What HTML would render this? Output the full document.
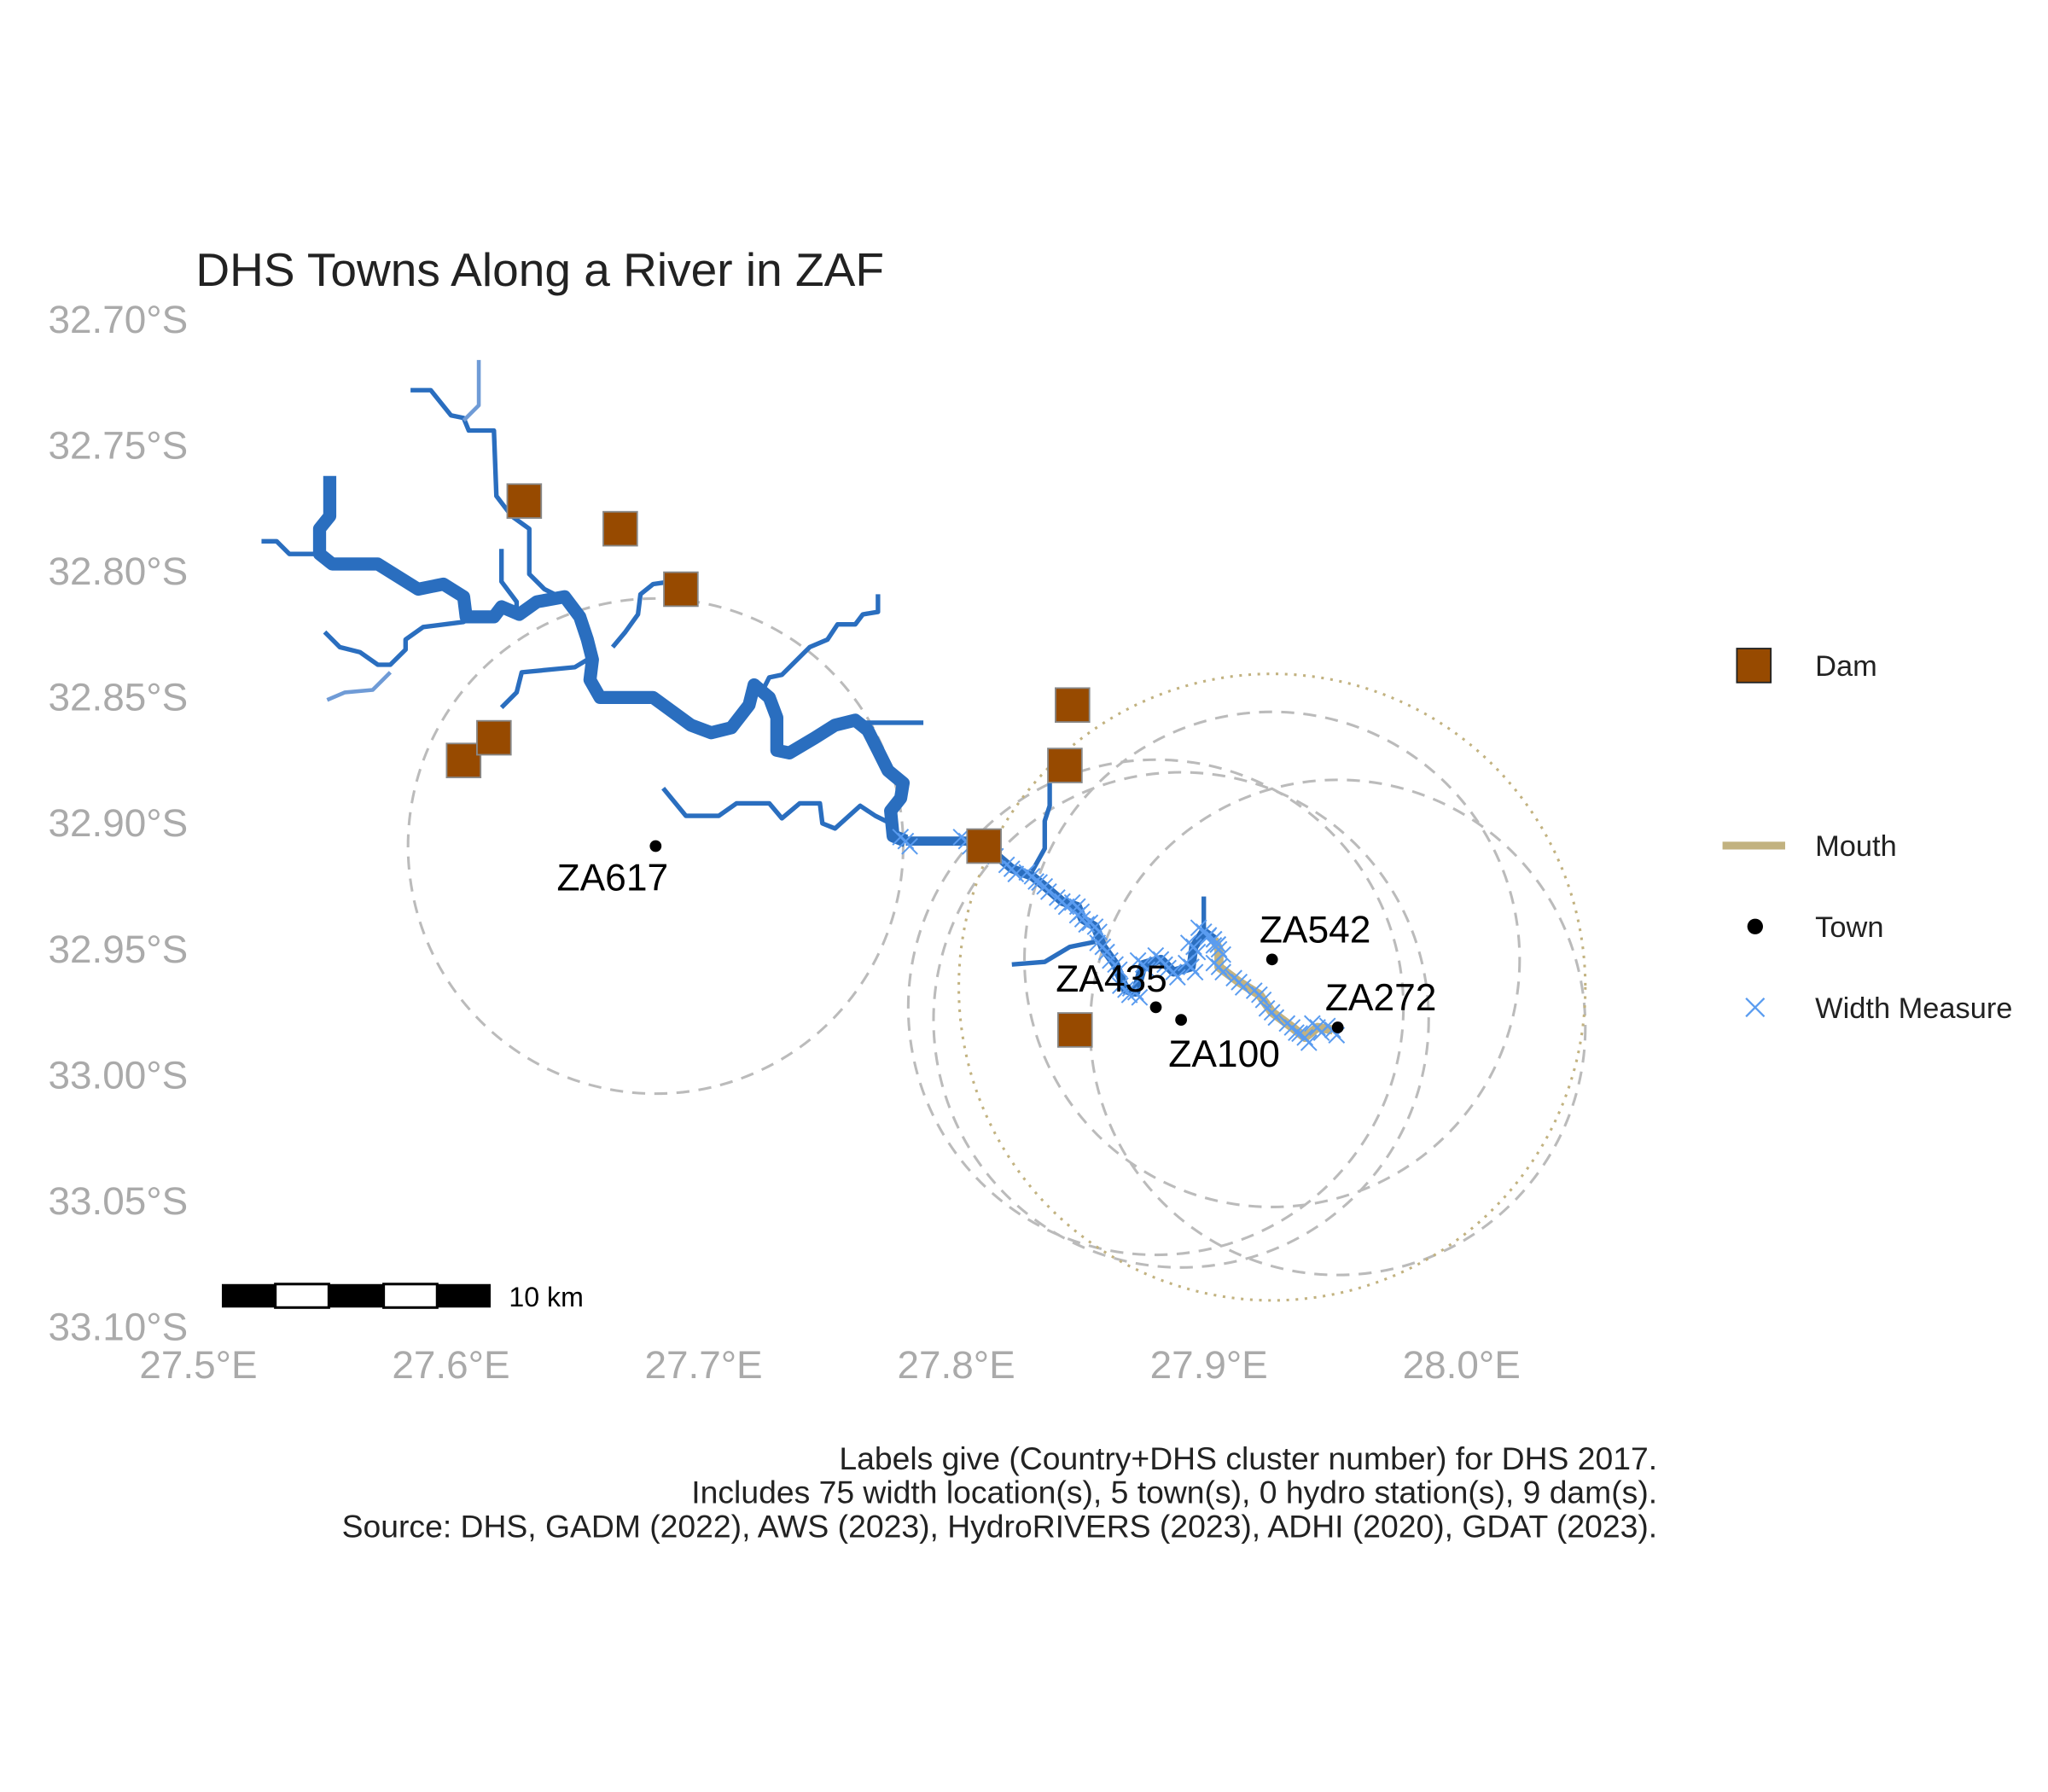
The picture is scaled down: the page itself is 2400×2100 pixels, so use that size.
<!DOCTYPE html>
<html><head><meta charset="utf-8"><style>
html,body{margin:0;padding:0;background:#fff;}
svg{display:block;font-family:"Liberation Sans",Arial,sans-serif;}
</style></head><body>
<svg id="map" width="2400" height="2100" viewBox="0 0 1560 1365" xmlns="http://www.w3.org/2000/svg">
<rect width="1560" height="1365" fill="#fff"/>
<g transform="scale(0.994)">
<text x="150" y="219" font-size="36" fill="#222">DHS Towns Along a River in ZAF</text>
<g id="yaxis"></g>
<g id="xaxis"></g>
<g id="buffers"></g>
<g id="rivers"></g>
<g id="measures"></g>
<g id="dams"></g>
<g id="towns"></g>
<g>
<rect x="170" y="984" width="41" height="18" fill="#000"/>
<rect x="211" y="984" width="41" height="18" fill="#fff" stroke="#000" stroke-width="2"/>
<rect x="252" y="984" width="42" height="18" fill="#000"/>
<rect x="294" y="984" width="41" height="18" fill="#fff" stroke="#000" stroke-width="2"/>
<rect x="335" y="984" width="41" height="18" fill="#000"/>
<text x="390" y="1001" font-size="21" fill="#000">10 km</text>
</g>
<g>
<rect x="1331" y="497" width="26" height="26" fill="#974a00" stroke="#222" stroke-width="1.2"/>
<text x="1391" y="518" font-size="22.5" fill="#222">Dam</text>
<line x1="1320" y1="648" x2="1368" y2="648" stroke="#c2b280" stroke-width="6"/>
<text x="1391" y="656" font-size="22.5" fill="#222">Mouth</text>
<circle cx="1345" cy="710" r="6" fill="#000"/>
<text x="1391" y="718" font-size="22.5" fill="#222">Town</text>
<path d="M1338 765 L1352 779 M1352 765 L1338 779" stroke="#5a9cf0" stroke-width="1.5"/>
<text x="1391" y="780" font-size="22.5" fill="#222">Width Measure</text>
</g>
<g font-size="24.4" fill="#222" text-anchor="end">
<text x="1270" y="1126">Labels give (Country+DHS cluster number) for DHS 2017.</text>
<text x="1270" y="1152">Includes 75 width location(s), 5 town(s), 0 hydro station(s), 9 dam(s).</text>
<text x="1270" y="1178">Source: DHS, GADM (2022), AWS (2023), HydroRIVERS (2023), ADHI (2020), GDAT (2023).</text>
</g>
</g>
</svg>
<script>
const xTicks=[27.5,27.6,27.7,27.8,27.9,28.0];
const xTickLabels=["27.5°E","27.6°E","27.7°E","27.8°E","27.9°E","28.0°E"];
const yTicks=[32.70,32.75,32.80,32.85,32.90,32.95,33.00,33.05,33.10];
const yTickLabels=["32.70°S","32.75°S","32.80°S","32.85°S","32.90°S","32.95°S","33.00°S","33.05°S","33.10°S"];
const mainUpper=[[27.552,32.762],[27.552,32.778],[27.548,32.783],[27.548,32.793],[27.553,32.797],[27.571,32.797],[27.587,32.807],[27.597,32.805],[27.605,32.810],[27.606,32.818],[27.617,32.818],[27.620,32.814],[27.627,32.817],[27.634,32.812],[27.645,32.810],[27.651,32.818],[27.654,32.827],[27.656,32.835],[27.655,32.843],[27.659,32.850],[27.680,32.850],[27.695,32.861],[27.703,32.864],[27.711,32.862],[27.718,32.853],[27.720,32.845],[27.726,32.850],[27.729,32.858],[27.729,32.871],[27.734,32.872],[27.744,32.866],[27.752,32.861],[27.760,32.859],[27.765,32.863],[27.769,32.871],[27.773,32.879],[27.779,32.884],[27.778,32.890],[27.774,32.895],[27.775,32.905],[27.780,32.907]];
const mainLower=[[27.780,32.907],[27.804,32.907],[27.814,32.911],[27.822,32.918],[27.830,32.921],[27.835,32.925],[27.842,32.931],[27.848,32.933],[27.850,32.938],[27.855,32.941],[27.858,32.949],[27.863,32.956],[27.867,32.966],[27.871,32.967],[27.874,32.956],[27.881,32.954],[27.886,32.959],[27.893,32.957],[27.894,32.949],[27.898,32.943],[27.902,32.946]];
const mouth=[[27.902,32.946],[27.904,32.950],[27.904,32.957],[27.912,32.963],[27.920,32.968],[27.925,32.975],[27.933,32.981],[27.938,32.985],[27.943,32.981],[27.949,32.982]];
const tribs=[
[[27.525,32.788],[27.531,32.788],[27.536,32.793],[27.546,32.793]],
[[27.584,32.728],[27.592,32.728],[27.600,32.738],[27.605,32.739],[27.607,32.744],[27.617,32.744],[27.618,32.770],[27.624,32.778],[27.631,32.783],[27.631,32.801],[27.637,32.807],[27.645,32.811]],
[[27.620,32.791],[27.620,32.796],[27.620,32.804],[27.626,32.812],[27.626,32.817]],
[[27.550,32.824],[27.556,32.830],[27.564,32.832],[27.571,32.837],[27.576,32.837],[27.582,32.831],[27.582,32.827],[27.589,32.822],[27.605,32.820],[27.608,32.818]],
[[27.620,32.854],[27.626,32.848],[27.628,32.840],[27.649,32.838],[27.654,32.835]],
[[27.664,32.830],[27.669,32.824],[27.674,32.817],[27.675,32.809],[27.680,32.805],[27.687,32.804]],
[[27.769,32.809],[27.769,32.816],[27.763,32.817],[27.760,32.821],[27.753,32.821],[27.749,32.827],[27.742,32.830],[27.731,32.841],[27.726,32.842],[27.723,32.848]],
[[27.757,32.860],[27.787,32.860]],
[[27.684,32.886],[27.693,32.897],[27.706,32.897],[27.713,32.892],[27.726,32.892],[27.731,32.898],[27.738,32.892],[27.746,32.892],[27.747,32.900],[27.752,32.902],[27.762,32.893],[27.768,32.897],[27.774,32.900]],
[[27.837,32.884],[27.837,32.893],[27.835,32.899],[27.835,32.910],[27.830,32.919]],
[[27.822,32.956],[27.835,32.955],[27.845,32.949],[27.855,32.947]],
[[27.898,32.929],[27.898,32.942]]];
const lightTribs=[
[[27.611,32.716],[27.611,32.734],[27.605,32.740]],
[[27.551,32.851],[27.558,32.848],[27.569,32.847],[27.576,32.840]]];
const damLon=[27.629,27.667,27.691,27.605,27.617,27.846,27.843,27.811,27.847];
const damLat=[32.772,32.783,32.807,32.875,32.866,32.853,32.877,32.909,32.982];
const townNames=["ZA617","ZA542","ZA435","ZA100","ZA272"];
const townLon=[27.681,27.925,27.879,27.889,27.951];
const townLat=[32.909,32.954,32.973,32.978,32.981];
const labelDx=[-33,33,-34,33,33];
const labelDy=[34,-13,-12,36,-13];
const bufferRadiusDeg=0.098;
const dottedLon=[27.925];
const dottedLat=[32.965];
const dottedRadiusDeg=0.124;

const NS="http://www.w3.org/2000/svg";
function X(lon){return 152+(lon-27.5)*1936;}
function Y(lat){return 245+(lat-32.70)*1930;}
function mk(tag,attrs,parent){const e=document.createElementNS(NS,tag);for(const k in attrs)e.setAttribute(k,attrs[k]);parent.appendChild(e);return e;}
function pts(a){return a.map(p=>X(p[0]).toFixed(1)+","+Y(p[1]).toFixed(1)).join(" ");}

const ya=document.getElementById('yaxis');
yTicks.forEach((t,i)=>{const e=mk('text',{x:144,y:Y(t)+10,'font-size':30,fill:'#aaa','text-anchor':'end'},ya);e.textContent=yTickLabels[i];

});
const xa=document.getElementById('xaxis');
xTicks.forEach((t,i)=>{const e=mk('text',{x:X(t),y:1056,'font-size':30,fill:'#aaa','text-anchor':'middle'},xa);e.textContent=xTickLabels[i];

});

const bf=document.getElementById('buffers');
const rPx=bufferRadiusDeg*1936;
townLon.forEach((lon,i)=>{const c=mk('circle',{cx:X(lon),cy:Y(townLat[i]),r:rPx,fill:'none',stroke:'#bbb','stroke-width':2,'stroke-dasharray':'10 7'},bf);

});
dottedLon.forEach((lon,i)=>{const c=mk('circle',{cx:X(lon),cy:Y(dottedLat[i]),r:dottedRadiusDeg*1936,fill:'none',stroke:'#c2b280','stroke-width':2,'stroke-dasharray':'2 5'},bf);

});

const rv=document.getElementById('rivers');
tribs.forEach(t=>{const l=mk('polyline',{points:pts(t),fill:'none',stroke:'#2a6ebf','stroke-width':3.5,'stroke-linejoin':'round'},rv);

});
lightTribs.forEach(t=>{const l=mk('polyline',{points:pts(t),fill:'none',stroke:'#6f9bd6','stroke-width':3,'stroke-linejoin':'round'},rv);

});
let m1=mk('polyline',{points:pts(mainUpper),fill:'none',stroke:'#2a6ebf','stroke-width':10,'stroke-linejoin':'round'},rv);


let m2=mk('polyline',{points:pts(mainLower),fill:'none',stroke:'#2a6ebf','stroke-width':7,'stroke-linejoin':'round'},rv);


let m3=mk('polyline',{points:pts(mouth),fill:'none',stroke:'#c2b280','stroke-width':7,'stroke-linejoin':'round'},rv);



const ms=document.getElementById('measures');
mainLower.concat(mouth).forEach(p=>{const x=X(p[0]),y=Y(p[1]);
[[-4,-3],[3,4],[0,0]].forEach(o=>{const e=mk('path',{d:`M${x+o[0]-6} ${y+o[1]-6} L${x+o[0]+6} ${y+o[1]+6} M${x+o[0]+6} ${y+o[1]-6} L${x+o[0]-6} ${y+o[1]+6}`,stroke:'#5a9cf0','stroke-width':1.3,fill:'none'},ms);

});});

const dm=document.getElementById('dams');
damLon.forEach((lon,i)=>{const r=mk('rect',{x:X(lon)-13,y:Y(damLat[i])-13,width:26,height:26,fill:'#974a00',stroke:'#888','stroke-width':1.2},dm);

});

const tw=document.getElementById('towns');
townLon.forEach((lon,i)=>{const x=X(lon),y=Y(townLat[i]);
const c=mk('circle',{cx:x,cy:y,r:4.5,fill:'#000'},tw);


const t=mk('text',{x:x+labelDx[i],y:y+labelDy[i],'font-size':29,fill:'#000','text-anchor':'middle'},tw);t.textContent=townNames[i];

});
</script>
</body></html>
